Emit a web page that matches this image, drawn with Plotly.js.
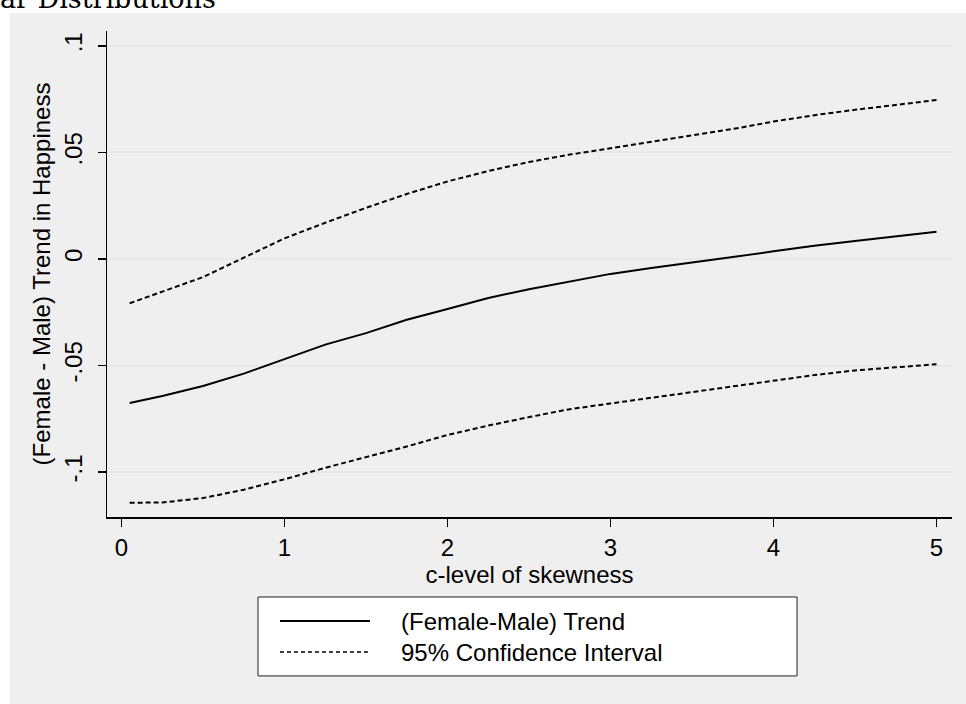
<!DOCTYPE html>
<html>
<head>
<meta charset="utf-8">
<script src="https://cdn.plot.ly/plotly-3.0.1.min.js"></script>
<style>html,body{margin:0;padding:0;background:#fff;}#chart{width:966px;height:704px;}</style>
</head>
<body>
<div id="chart"></div>
<script>
// ---- data ----
var cLevel = [0.05, 0.25, 0.5, 0.75, 1.0, 1.25, 1.5, 1.75, 2.0, 2.25, 2.5, 2.75, 3.0, 3.25, 3.5, 3.75, 4.0, 4.25, 4.5, 4.75, 5.0];
var trend = [-0.0676, -0.0643, -0.0596, -0.0538, -0.0470, -0.0402, -0.0348, -0.0285, -0.0235, -0.0183, -0.0142, -0.0105, -0.0070, -0.0042, -0.0018, 0.0009, 0.0036, 0.0062, 0.0084, 0.0107, 0.0128];
var upperCI = [-0.0208, -0.0155, -0.0085, 0.0006, 0.0097, 0.0170, 0.0240, 0.0305, 0.0364, 0.0413, 0.0455, 0.0490, 0.0520, 0.0552, 0.0580, 0.0610, 0.0645, 0.0675, 0.0700, 0.0723, 0.0746];
var lowerCI = [-0.1144, -0.1143, -0.1122, -0.1083, -0.1034, -0.0980, -0.0930, -0.0880, -0.0826, -0.0782, -0.0742, -0.0705, -0.0678, -0.0650, -0.0625, -0.0598, -0.0570, -0.0545, -0.0523, -0.0508, -0.0494];
var yTickVals = [-0.1, -0.05, 0, 0.05, 0.1];
var yTickText = ['-.1', '-.05', '0', '.05', '.1'];
var xTickVals = [0, 1, 2, 3, 4, 5];
var seriesNames = ['(Female-Male) Trend', '95% Confidence Interval'];
var titleText = 'ar Distributions';
var xTitle = 'c-level of skewness';
var yTitle = '(Female - Male) Trend in Happiness';

var FONT = 'Liberation Sans, Arial, sans-serif';
var FS = 24;
var DASH = '5px,3px';

var traces = [
  {x: cLevel, y: trend, mode: 'lines', name: seriesNames[0], line: {color: '#000', width: 2}, showlegend: false},
  {x: cLevel, y: upperCI, mode: 'lines', name: seriesNames[1], line: {color: '#000', width: 2, dash: DASH}, showlegend: false},
  {x: cLevel, y: lowerCI, mode: 'lines', name: seriesNames[1], line: {color: '#000', width: 2, dash: DASH}, showlegend: false}
];

// custom legend box (paper coords)
var legBox = {x0: 0.1787, x1: 0.8166, y0: -0.327, y1: -0.1646};
var legRows = [-0.214, -0.2778];
var legLineX = [0.2047, 0.3112];
var legTextX = 0.3456;

var shapes = [
  {type: 'rect', xref: 'paper', yref: 'paper', x0: -0.1148, x1: 1.2, y0: -0.6, y1: 1.037, fillcolor: '#EFEFEF', line: {width: 0}, layer: 'below'},
  {type: 'rect', xref: 'paper', yref: 'paper', x0: legBox.x0, x1: legBox.x1, y0: legBox.y0, y1: legBox.y1, fillcolor: '#FFFFFF', line: {color: '#222', width: 1}, layer: 'above'},
  {type: 'line', xref: 'paper', yref: 'paper', x0: legLineX[0], x1: legLineX[1], y0: legRows[0], y1: legRows[0], line: {color: '#000', width: 2}},
  {type: 'line', xref: 'paper', yref: 'paper', x0: legLineX[0], x1: legLineX[1], y0: legRows[1], y1: legRows[1], line: {color: '#000', width: 1.5, dash: '4px,3px'}}
];

var annotations = seriesNames.map(function (n, i) {
  return {xref: 'paper', yref: 'paper', x: legTextX, y: legRows[i], xanchor: 'left', yanchor: 'middle', text: n, showarrow: false, font: {family: FONT, size: FS, color: '#000'}};
});

var layout = {
  width: 966, height: 704,
  margin: {l: 107, r: 14, t: 31, b: 187, pad: 0},
  paper_bgcolor: '#FFFFFF',
  plot_bgcolor: '#FFFFFF',
  showlegend: false,
  title: {text: titleText, font: {family: 'DejaVu Serif, serif', size: 27, color: '#000'}, xref: 'container', yref: 'container', x: 0, xanchor: 'left', y: 0.989, yanchor: 'bottom', pad: {t: 0, b: 0, l: 0, r: 0}},
  xaxis: {
    range: [-0.089, 5.095], tickvals: xTickVals, ticktext: xTickVals.map(String),
    showgrid: false, zeroline: false, showline: true, linecolor: '#000', linewidth: 1.5,
    ticks: 'outside', ticklen: 8, tickwidth: 1.3, tickcolor: '#000', ticklabelstandoff: 1,
    tickfont: {family: FONT, size: FS, color: '#000'},
    title: {text: xTitle, font: {family: FONT, size: FS, color: '#000'}, standoff: 1},
    automargin: false
  },
  yaxis: {
    range: [-0.1211, 0.107], tickvals: yTickVals, ticktext: yTickText, tickangle: -90,
    showgrid: true, gridcolor: '#E8E8E8', gridwidth: 2, zeroline: false,
    showline: true, linecolor: '#000', linewidth: 1.5,
    ticks: 'outside', ticklen: 8, tickwidth: 1.3, tickcolor: '#000', ticklabelstandoff: 6,
    tickfont: {family: FONT, size: FS, color: '#000'},
    title: {text: yTitle, font: {family: FONT, size: FS, color: '#000'}, standoff: 2},
    automargin: false
  },
  shapes: shapes,
  annotations: annotations
};

Plotly.newPlot('chart', traces, layout, {displayModeBar: false, staticPlot: true});
</script>
</body>
</html>
